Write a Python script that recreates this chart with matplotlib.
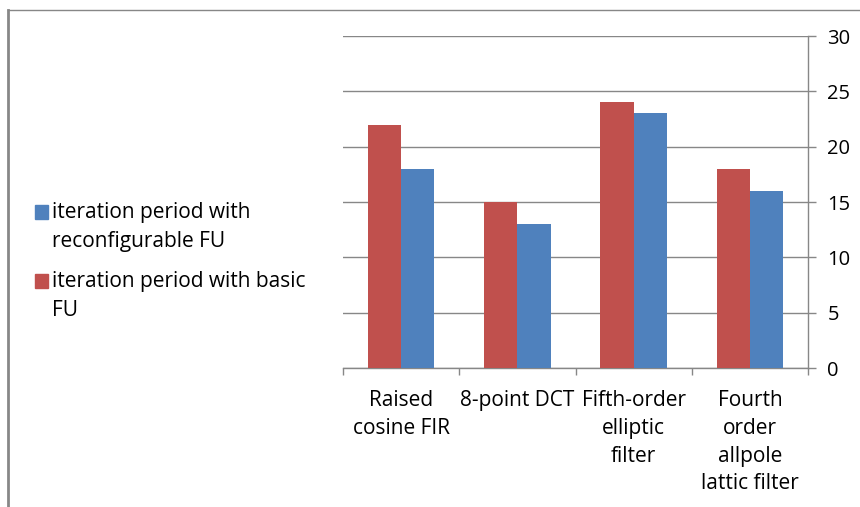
import matplotlib
matplotlib.use("Agg")
import matplotlib.pyplot as plt
from matplotlib.lines import Line2D
from matplotlib.patches import Rectangle
import numpy as np

categories = ["Raised\ncosine FIR", "8-point DCT", "Fifth-order\nelliptic\nfilter",
              "Fourth\norder\nallpole\nlattic filter"]
basic_fu = [22, 15, 24, 18]
reconfig_fu = [18, 13, 23, 16]
series_names = ["iteration period with\nreconfigurable FU",
                "iteration period with basic\nFU"]
yticks = [0, 5, 10, 15, 20, 25, 30]

RED = "#C0504D"
BLUE = "#4F81BD"
GRID = "#878787"
FONT = "Open Sans"
FS = 15
LS = 1.5

W, H = 860, 507
fig = plt.figure(figsize=(W / 100, H / 100), dpi=100)


def fx(px):
    return px / W


def fy(py):
    return 1 - py / H


# outer chart frame (top and left edges)
fig.add_artist(Line2D([fx(8), 1], [fy(10), fy(10)], color=GRID, lw=1.0))
fig.add_artist(Line2D([fx(8), fx(8)], [0, fy(10)], color=GRID, lw=2.0))

ax = fig.add_axes([fx(343), fy(368), (808 - 343) / W, (368 - 36) / H])

x = np.arange(len(categories))
bw = 1 / 3.5
ax.bar(x - bw / 2, basic_fu, width=bw, color=RED, zorder=3)
ax.bar(x + bw / 2, reconfig_fu, width=bw, color=BLUE, zorder=3)

ax.set_xlim(-0.5, len(categories) - 0.5)
ax.set_ylim(0, 30)
ax.set_yticks(yticks)
ax.yaxis.tick_right()
ax.yaxis.grid(True, color=GRID, lw=1.0)
ax.set_axisbelow(True)

for side in ["left", "top"]:
    ax.spines[side].set_visible(False)
for side in ["right", "bottom"]:
    ax.spines[side].set_color(GRID)
    ax.spines[side].set_linewidth(1.0)

ax.tick_params(axis="y", direction="out", length=6, color=GRID, width=1.0,
               pad=8, labelsize=14.5, labelcolor="black")
for lab in ax.get_yticklabels():
    lab.set_fontfamily(FONT)

ax.set_xticks(x)
ax.set_xticklabels(categories, fontsize=FS, family=FONT, linespacing=1.42,
                   va="top")
ax.set_xticks(np.arange(len(categories) + 1) - 0.5, minor=True)
ax.tick_params(axis="x", which="major", length=0, pad=16)
ax.tick_params(axis="x", which="minor", direction="out", length=5,
               color=GRID, width=1.0)

# legend: colour square beside the first line of each entry
legend_colors = [BLUE, RED]
first_line_y = [212, 281]
for name, col, ly in zip(series_names, legend_colors, first_line_y):
    fig.add_artist(Rectangle((fx(35), fy(ly + 7)), 13 / W, 14 / H,
                             color=col, transform=fig.transFigure))
    fig.text(fx(52), fy(ly - 10), name, family=FONT, fontsize=FS,
             va="top", ha="left", linespacing=LS)

fig.savefig("out.png", dpi=100)
